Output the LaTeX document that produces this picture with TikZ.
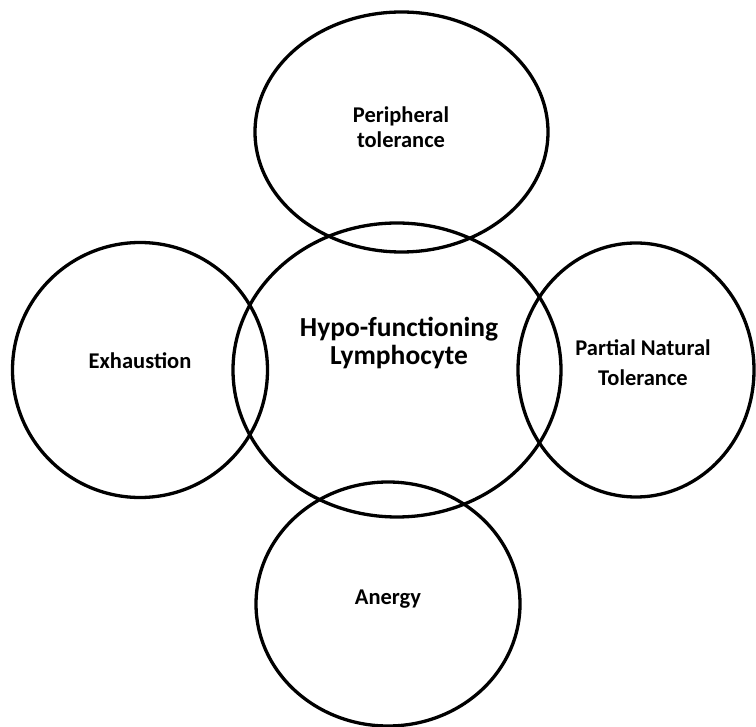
\documentclass[tikz,border=0pt]{standalone}
\usepackage{fontspec}
\setmainfont{Carlito}
\usetikzlibrary{shapes.geometric}
\begin{document}
\begin{tikzpicture}[x=1pt,y=-1pt,
  bubble/.style={draw=black,line width=3.3pt,shape=ellipse,inner sep=0pt,outer sep=0pt},
  small/.style={font=\bfseries\fontsize{22.5}{25}\selectfont,align=center,inner sep=0pt},
  big/.style={font=\bfseries\fontsize{27.5}{28}\selectfont,align=center,inner sep=0pt}]
\useasboundingbox (0,0) rectangle (756,727);
\node[bubble,minimum width=293pt,minimum height=240pt] (top) at (401.5,132) {};
\node[bubble,minimum width=328pt,minimum height=294pt] (mid) at (397,370) {};
\node[bubble,minimum width=255pt,minimum height=255pt] (left) at (140,370) {};
\node[bubble,minimum width=236pt,minimum height=254pt] (right) at (636,370) {};
\node[bubble,minimum width=264pt,minimum height=244pt] (bottom) at (388,604) {};
\node[small] (ttop) at (401,127.5) {Peripheral\\tolerance};
\node[big] (tmid) at (399,343) {Hypo-functioning\\Lymphocyte};
\node[small,anchor=base] (tleft) at (140,369) {Exhaustion};
\node[small,font=\bfseries\fontsize{22.5}{30}\selectfont] (tright) at (643,362.5) {Partial Natural\\Tolerance};
\node[small,anchor=base] (tbottom) at (388,604) {Anergy};
\end{tikzpicture}
\end{document}
